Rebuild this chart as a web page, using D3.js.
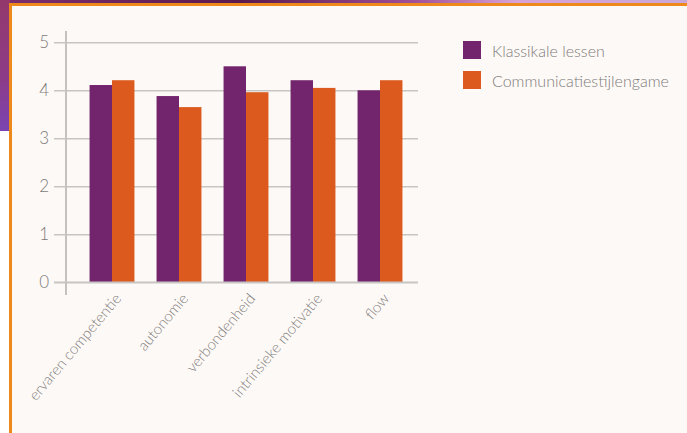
<!DOCTYPE html>
<html>
<head>
<meta charset="utf-8">
<script src="https://cdn.jsdelivr.net/npm/d3@7"></script>
<style>
  html, body { margin: 0; padding: 0; background: #ffffff; }
  svg { display: block; }
  text { font-family: Lato, "Open Sans", sans-serif; font-weight: 300; fill: #7d7b7b; }
</style>
</head>
<body>
<svg id="chart" width="687" height="433"></svg>
<script>
// Scores per dimension for the two teaching formats
const categories = ["ervaren competentie", "autonomie", "verbondenheid", "intrinsieke motivatie", "flow"];
const seriesNames = ["Klassikale lessen", "Communicatiestijlengame"];
const klassikaal = [4.11, 3.88, 4.5, 4.21, 4.0];
const game = [4.21, 3.65, 3.96, 4.05, 4.21];
const yTicks = [0, 1, 2, 3, 4, 5];
const colors = ["#72246c", "#dc5a1e"];

const svg = d3.select("#chart");
const W = 687, H = 433;

// Decorative backdrop: photo strip behind the card and the card frame
const defs = svg.append("defs");
const gTop = defs.append("linearGradient").attr("id", "topStrip").attr("x1", 0).attr("x2", 1).attr("y1", 0).attr("y2", 0);
gTop.append("stop").attr("offset", "0").attr("stop-color", "#7e2f6e");
gTop.append("stop").attr("offset", "0.35").attr("stop-color", "#5c1a4c");
gTop.append("stop").attr("offset", "0.6").attr("stop-color", "#a04e96");
gTop.append("stop").attr("offset", "0.75").attr("stop-color", "#d8a2d4");
gTop.append("stop").attr("offset", "1").attr("stop-color", "#c9a8d8");
const gLeft = defs.append("linearGradient").attr("id", "leftStrip").attr("x1", 0).attr("x2", 0).attr("y1", 0).attr("y2", 1);
gLeft.append("stop").attr("offset", "0").attr("stop-color", "#93386c");
gLeft.append("stop").attr("offset", "0.6").attr("stop-color", "#8c3c88");
gLeft.append("stop").attr("offset", "1").attr("stop-color", "#7a44b2");

svg.append("rect").attr("x", 0).attr("y", 0).attr("width", W).attr("height", 4).attr("fill", "url(#topStrip)");
svg.append("rect").attr("x", 0).attr("y", 0).attr("width", 10).attr("height", 131).attr("fill", "url(#leftStrip)");
svg.append("rect").attr("x", 9).attr("y", 3).attr("width", W - 9).attr("height", H - 3).attr("fill", "#ee8a1c");
svg.append("rect").attr("x", 12).attr("y", 6).attr("width", W - 12).attr("height", H - 6).attr("fill", "#fdf9f6");

// Scales
const y = d3.scaleLinear().domain([0, 5]).range([282.3, 42.3]);
const x = d3.scaleBand().domain(categories).range([78.5, 413.5]).paddingInner(0.33).paddingOuter(0.165);
const xs = d3.scaleBand().domain(seriesNames).range([0, x.bandwidth()]);

// Horizontal grid with value labels
const yAxis = d3.axisLeft(y).tickValues(yTicks).tickFormat(d3.format("d")).tickSize(-(418 - 54)).tickPadding(5);
const gy = svg.append("g").attr("transform", "translate(54,0)").call(yAxis);
gy.select(".domain").remove();
gy.selectAll(".tick line").attr("stroke", "#c7c5c4").attr("stroke-width", 1.5);
gy.selectAll(".tick text").attr("font-size", 17).attr("fill", "#7d7b7b").style("font-family", null);

// Vertical axis line
svg.append("line").attr("x1", 66).attr("x2", 66).attr("y1", 31).attr("y2", 295)
  .attr("stroke", "#c4c2c1").attr("stroke-width", 2);

// Bars
const rows = categories.map((c, i) => ({ cat: c, vals: [klassikaal[i], game[i]] }));
const groups = svg.append("g").selectAll("g").data(rows).join("g")
  .attr("transform", d => `translate(${x(d.cat)},0)`);
groups.selectAll("rect").data(d => d.vals.map((v, j) => ({ name: seriesNames[j], v, j }))).join("rect")
  .attr("x", d => xs(d.name))
  .attr("width", xs.bandwidth())
  .attr("y", d => y(d.v))
  .attr("height", d => y(0) - y(d.v))
  .attr("fill", d => colors[d.j]);

// Redraw the zero line over the bars' bottoms
svg.append("line").attr("x1", 54).attr("x2", 418).attr("y1", y(0)).attr("y2", y(0))
  .attr("stroke", "#c7c5c4").attr("stroke-width", 1.5);

// Category labels, rotated
const xAxis = d3.axisBottom(x).tickSize(0).tickPadding(0);
const gx = svg.append("g").attr("transform", "translate(0,296)").call(xAxis);
gx.select(".domain").remove();
gx.selectAll(".tick text")
  .attr("font-size", 15)
  .attr("fill", "#7d7b7b")
  .style("font-family", null)
  .attr("text-anchor", "end")
  .attr("y", 0)
  .attr("dy", 0)
  .attr("transform", "translate(10,3) rotate(-50)");

// Legend
const legend = svg.append("g").selectAll("g").data(seriesNames).join("g")
  .attr("transform", (d, i) => `translate(463,${41 + i * 30})`);
legend.append("rect").attr("width", 18).attr("height", 18).attr("fill", (d, i) => colors[i]);
legend.append("text").attr("x", 29).attr("y", 15.5)
  .attr("font-size", 16).text(d => d);
</script>
</body>
</html>
